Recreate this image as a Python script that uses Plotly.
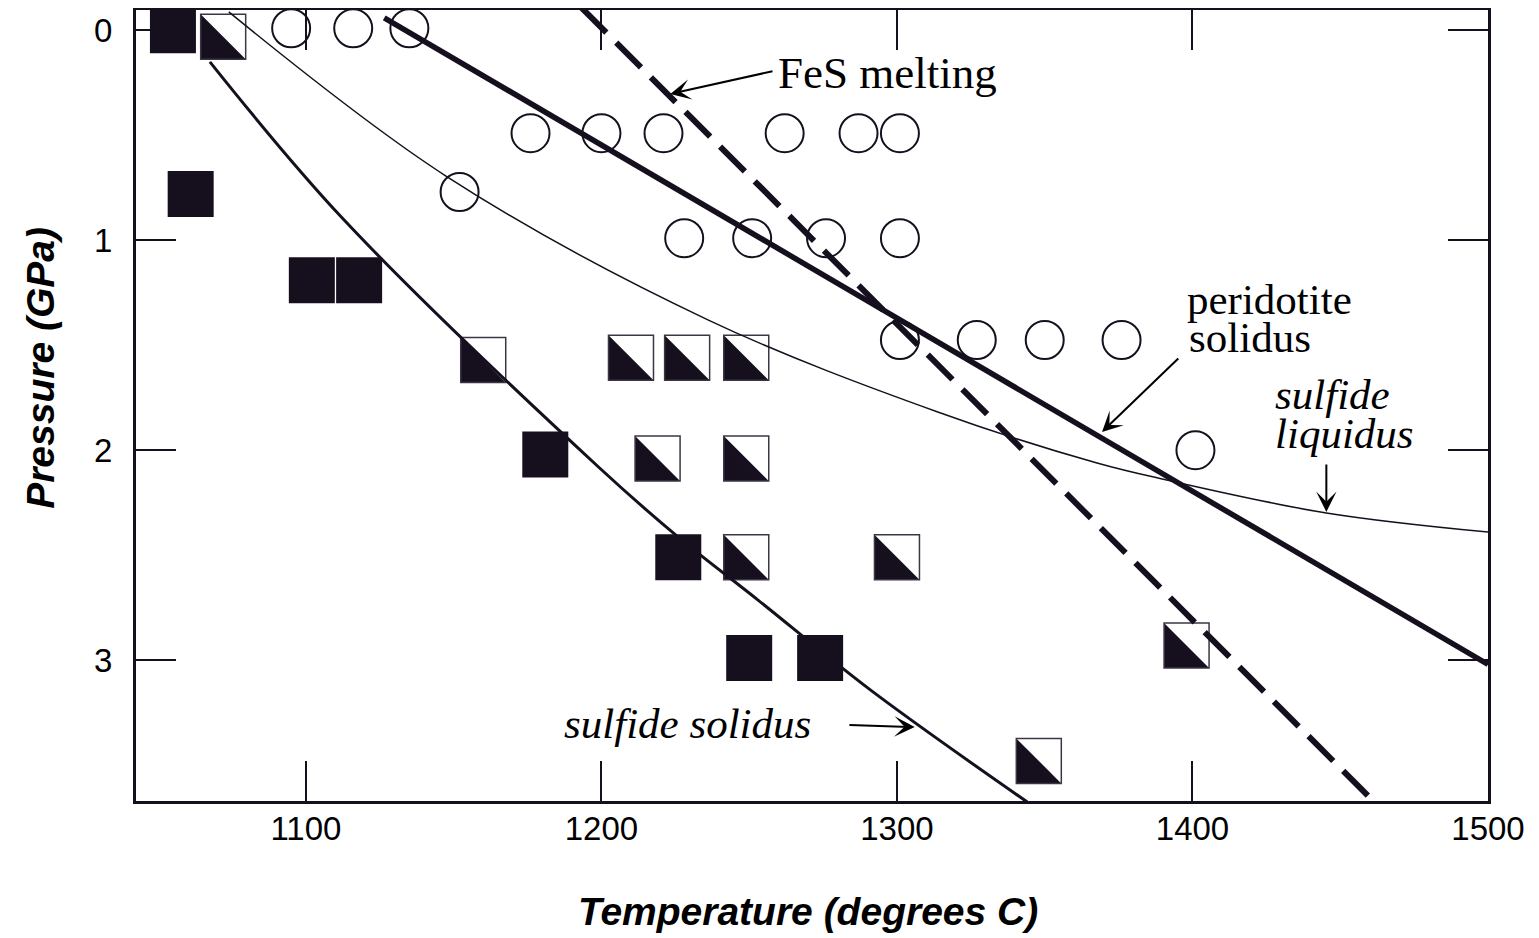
import plotly.graph_objects as go

# ---------------- data ----------------
# Filled squares (temperature degC, pressure GPa)
filled_T = [1055, 1061, 1102, 1118, 1181, 1226, 1250, 1274]
filled_P = [0.0, 0.78, 1.19, 1.19, 2.02, 2.51, 2.99, 2.99]

# Half-filled squares
half_T = [1072, 1160, 1210, 1229, 1249, 1219, 1249, 1249, 1300, 1398, 1348]
half_P = [0.03, 1.57, 1.56, 1.56, 1.56, 2.04, 2.04, 2.51, 2.51, 2.93, 3.48]

# Open circles
circle_T = [1095, 1116, 1135,
            1176, 1200, 1221, 1262, 1287, 1301,
            1152,
            1228, 1251, 1276, 1301,
            1301, 1327, 1350, 1376,
            1401]
circle_P = [-0.01, -0.01, -0.01,
            0.49, 0.49, 0.49, 0.49, 0.49, 0.49,
            0.77,
            0.99, 0.99, 0.99, 0.99,
            1.475, 1.475, 1.475, 1.475,
            2.0]

# Peridotite solidus (straight)
perid_T = [1126.5, 1500.0]
perid_P = [-0.06, 3.02]

# FeS melting (dashed, straight)
fes_T = [1193.3, 1461.5]
fes_P = [-0.107, 3.676]

# Sulfide liquidus (thin curve)
liq_T = [1073.9, 1147.4, 1236.2, 1313.8, 1367.7, 1391.3, 1445.3, 1500.0]
liq_P = [-0.088, 0.694, 1.380, 1.818, 2.061, 2.142, 2.299, 2.390]

# Sulfide solidus (curve)
sol_T = [1067.5, 1112.3, 1199.0, 1226.0, 1253.0, 1291.1, 1344.1]
sol_P = [0.150, 0.894, 2.080, 2.414, 2.714, 3.143, 3.676]

x_ticks = [1100, 1200, 1300, 1400, 1500]
y_ticks = [0, 1, 2, 3]

# ---------------- styling ----------------
INK = "#16101e"
SANS = "Liberation Sans, Arial, sans-serif"
SERIF = "Liberation Serif, Times New Roman, serif"

fig = go.Figure()

# markers
fig.add_trace(go.Scatter(
    x=circle_T, y=circle_P, mode="markers",
    marker=dict(symbol="circle-open", size=38, color=INK, line=dict(width=2, color=INK)),
    hoverinfo="skip", showlegend=False))
fig.add_trace(go.Scatter(
    x=filled_T, y=filled_P, mode="markers",
    marker=dict(symbol="square", size=46, color=INK, line=dict(width=0)),
    hoverinfo="skip", showlegend=False))
fig.add_trace(go.Scatter(
    x=half_T, y=half_P, mode="markers",
    marker=dict(symbol="square-open", size=45, color="#3c3644", line=dict(width=1.5, color="#3c3644")),
    hoverinfo="skip", showlegend=False))

# black lower-left triangles of the half-filled squares (pixel-size shapes anchored at data)
HS = 22.5
for t, p in zip(half_T, half_P):
    fig.add_shape(type="path", xref="x", yref="y",
                  xsizemode="pixel", ysizemode="pixel",
                  xanchor=t, yanchor=p,
                  path=f"M{-HS},{-HS} L{HS},{-HS} L{-HS},{HS} Z",
                  fillcolor=INK, line=dict(width=0), layer="below")

# lines
fig.add_trace(go.Scatter(x=liq_T, y=liq_P, mode="lines",
                         line=dict(color=INK, width=1.5, shape="spline", smoothing=1.0),
                         hoverinfo="skip", showlegend=False))
fig.add_trace(go.Scatter(x=sol_T, y=sol_P, mode="lines",
                         line=dict(color=INK, width=3, shape="spline", smoothing=1.0),
                         hoverinfo="skip", showlegend=False))
fig.add_trace(go.Scatter(x=perid_T, y=perid_P, mode="lines",
                         line=dict(color=INK, width=5.5),
                         hoverinfo="skip", showlegend=False))
fig.add_trace(go.Scatter(x=fes_T, y=fes_P, mode="lines",
                         line=dict(color=INK, width=6, dash="35px,14px"),
                         hoverinfo="skip", showlegend=False))

# text labels: (text, x, y, italic, size)
labels = [
    ("FeS melting", 1258.9, 0.205, False, 45),
    ("peridotite", 1397.4, 1.280, False, 43),
    ("solidus", 1398.1, 1.462, False, 43),
    ("sulfide", 1427.4, 1.733, True, 43),
    ("liquidus", 1427.4, 1.922, True, 43),
    ("sulfide solidus", 1186.6, 3.30, True, 43),
]
for txt, lx, ly, ital, fs in labels:
    fig.add_annotation(x=lx, y=ly, xref="x", yref="y",
                       text=f"<i>{txt}</i>" if ital else txt,
                       showarrow=False, xanchor="left", yanchor="middle",
                       font=dict(family=SERIF, size=fs, color="black"))

# arrows: (tip_x, tip_y, tail_x, tail_y)
arrows = [
    (1223.3, 0.303, 1258.4, 0.193),
    (1369.4, 1.913, 1395.7, 1.556),
    (1445.3, 2.294, 1445.3, 2.061),
    (1306.0, 3.319, 1283.4, 3.309),
]
for tx, ty, ax_, ay_ in arrows:
    fig.add_annotation(x=tx, y=ty, ax=ax_, ay=ay_, xref="x", yref="y",
                       axref="x", ayref="y", text="", showarrow=True,
                       arrowhead=3, arrowsize=1.7, arrowwidth=2,
                       arrowcolor="black", standoff=0)

# axis titles
fig.add_annotation(x=0.497, y=-0.140, xref="paper", yref="paper",
                   text="<b><i>Temperature (degrees C)</i></b>", showarrow=False,
                   xanchor="center", yanchor="middle",
                   font=dict(family=SANS, size=39, color="black"))
fig.add_annotation(x=-0.0706, y=0.547, xref="paper", yref="paper",
                   text="<b><i>Pressure (GPa)</i></b>", showarrow=False,
                   textangle=-90, xanchor="center", yanchor="middle",
                   font=dict(family=SANS, size=39, color="black"))

axis_common = dict(
    showgrid=False, zeroline=False, showline=True, linewidth=3, linecolor=INK,
    mirror="ticks", ticks="inside", ticklen=40, tickwidth=1.5, tickcolor=INK,
    tickfont=dict(family=SANS, size=33, color="black"), automargin=False,
)
fig.update_xaxes(range=[1042.5, 1500.0], tickvals=x_ticks,
                 ticktext=[str(v) for v in x_ticks], ticklabelstandoff=-4,
                 **axis_common)
fig.update_yaxes(range=[3.671, -0.097], tickvals=y_ticks,
                 ticktext=[str(v) for v in y_ticks], ticklabelstandoff=14,
                 **axis_common)

# the page body adds an 8px margin, so the figure is 8px smaller than the window
fig.update_layout(
    width=1531, height=930,
    margin=dict(l=127.5, r=51, t=2, b=137),
    paper_bgcolor="white", plot_bgcolor="white",
    showlegend=False,
)

fig.write_html("out.html")
